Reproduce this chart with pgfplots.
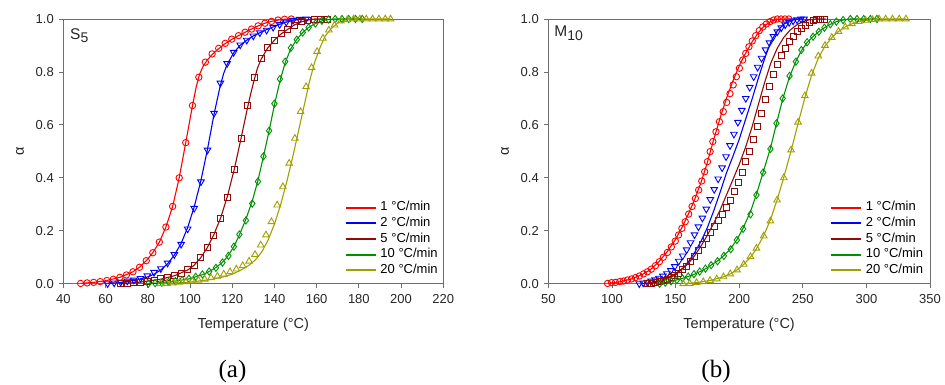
\documentclass[border=0pt]{standalone}
\usepackage{fontspec}
\setmainfont{Liberation Sans}
\newfontfamily\seriffont{Liberation Serif}
\usepackage{pgfplots}
\pgfplotsset{compat=1.18}
\definecolor{cR}{RGB}{255,0,0}
\definecolor{cB}{RGB}{0,0,255}
\definecolor{cM}{RGB}{145,10,10}
\definecolor{cG}{RGB}{0,145,0}
\definecolor{cY}{RGB}{160,160,0}
\definecolor{axg}{RGB}{110,110,110}
\pgfplotsset{
  panel/.style={
    scale only axis, height=264.7pt,
    ymin=0, ymax=1, ytick={0,0.2,0.4,0.6,0.8,1},
    yticklabel style={/pgf/number format/fixed, /pgf/number format/fixed zerofill, /pgf/number format/precision=1},
    /pgf/number format/assume math mode=true,
    tick align=outside, xtick pos=bottom, ytick pos=left,
    axis line style={axg, line width=0.8pt},
    major tick length=4pt,
    every tick/.style={axg, line width=0.8pt},
    tick label style={font=\fontsize{13}{15}\selectfont, black!85},
    xticklabel style={yshift=-3.2pt},
    yticklabel style={xshift=-2pt},
    label style={font=\fontsize{14.5}{16}\selectfont, black!85},
    xlabel={Temperature (°C)},
    ylabel={α},
    xlabel style={at={(axis description cs:0.5,-0.156)}, anchor=center},
    clip=false,
    legend cell align=left,
    legend image code/.code={\draw[line width=2pt] (0pt,0pt) -- (30pt,0pt);},
    legend style={draw=none, fill=none, inner sep=0pt, row sep=2.2pt,
      font=\fontsize{13}{15}\selectfont,
      nodes={inner xsep=3.5pt, inner ysep=1pt, text height=9pt, text depth=2.5pt}},
  },
  mk/.style={only marks, line width=0.9pt, forget plot},
  ln/.style={no marks, line width=1.1pt},
}
\begin{document}
\begin{tikzpicture}
\path[use as bounding box] (0pt,0pt) rectangle (945pt,385pt);
% ---------------- left panel (a) ----------------
\begin{axis}[panel, at={(63.3pt,101.3pt)}, anchor=south west, width=380pt,
  xmin=40, xmax=220, xtick={40,60,80,100,120,140,160,180,200,220},
  ylabel style={at={(axis description cs:-0.114,0.5)}, anchor=center},
  legend style={at={(axis description cs:0.995,0.024)}, anchor=south east}]
\addplot[mk, cR, mark=o, mark size=3.2pt] table {
48.2 0.001
51.3 0.003
54.4 0.005
57.5 0.008
60.6 0.012
63.7 0.017
66.8 0.024
69.9 0.033
73.0 0.045
76.1 0.062
79.3 0.087
82.4 0.117
85.5 0.157
88.6 0.214
91.8 0.292
94.9 0.400
98.0 0.533
101.2 0.673
104.2 0.780
107.3 0.837
110.5 0.868
113.6 0.889
116.7 0.908
119.8 0.924
123.0 0.937
126.1 0.950
129.2 0.962
132.3 0.974
135.5 0.984
138.6 0.991
141.7 0.996
144.8 0.999
148.0 1.000
};
\addplot[ln, cR] table {
48.2 0.001
54.4 0.005
60.6 0.012
66.8 0.024
73.0 0.045
76.1 0.062
79.3 0.087
82.4 0.117
85.5 0.157
88.6 0.214
91.8 0.292
94.9 0.400
98.0 0.533
101.2 0.673
103.0 0.745
104.5 0.790
106.0 0.818
108.0 0.843
110.5 0.866
113.6 0.888
116.7 0.907
119.8 0.923
123.0 0.937
126.1 0.950
129.2 0.962
132.3 0.974
135.5 0.984
138.6 0.991
141.7 0.996
144.8 0.999
148.0 1.000
};
\addlegendentry{1 °C/min}
\addplot[mk, cB, mark=triangle, mark size=3.8pt, mark options={rotate=180}] table {
61.0 0.000
64.1 0.003
67.2 0.006
70.3 0.010
73.4 0.014
76.6 0.020
79.8 0.030
83.0 0.043
86.2 0.057
89.4 0.078
92.6 0.110
95.8 0.149
98.9 0.207
102.0 0.285
105.2 0.385
108.3 0.505
111.4 0.644
114.4 0.758
117.6 0.832
120.7 0.874
123.8 0.902
126.9 0.920
130.0 0.936
133.1 0.948
136.3 0.958
139.4 0.969
142.5 0.979
145.6 0.988
148.8 0.995
151.9 0.999
155.0 1.000
};
\addplot[ln, cB] table {
61.0 0.000
67.2 0.005
73.4 0.012
79.8 0.025
83.0 0.036
86.2 0.052
89.4 0.075
92.6 0.108
95.8 0.152
98.9 0.212
102.0 0.290
105.2 0.390
108.3 0.508
111.4 0.640
114.4 0.750
116.0 0.795
117.6 0.828
120.7 0.872
123.8 0.901
126.9 0.920
130.0 0.936
133.1 0.948
136.3 0.960
139.4 0.970
142.5 0.980
145.6 0.988
148.8 0.995
151.9 0.999
155.0 1.000
};
\addlegendentry{2 °C/min}
\addplot[mk, cM, mark=square, mark size=3.0pt] table {
67.0 0.000
70.2 0.002
73.4 0.004
76.6 0.006
79.8 0.009
83.0 0.013
86.2 0.018
89.4 0.024
92.6 0.031
95.8 0.040
99.0 0.052
102.0 0.068
105.1 0.100
108.2 0.137
111.3 0.184
114.6 0.245
117.8 0.325
121.1 0.430
124.3 0.549
127.4 0.673
130.5 0.780
133.7 0.851
136.8 0.892
140.0 0.920
143.1 0.944
146.3 0.960
149.4 0.977
152.6 0.990
155.7 0.996
159.0 1.000
162.0 1.000
165.0 1.000
};
\addplot[ln, cM] table {
67.0 0.000
76.6 0.006
86.2 0.017
92.6 0.030
99.0 0.052
102.0 0.070
105.1 0.098
108.2 0.136
111.3 0.185
114.6 0.250
117.8 0.332
121.1 0.436
124.3 0.553
127.4 0.670
129.0 0.725
130.5 0.772
132.0 0.815
133.7 0.848
136.8 0.890
140.0 0.920
143.1 0.943
146.3 0.961
149.4 0.977
152.6 0.989
155.7 0.996
159.0 1.000
165.0 1.000
};
\addlegendentry{5 °C/min}
\addplot[mk, cG, mark=diamond, mark size=3.6pt] table {
80.3 0.000
83.5 0.002
86.7 0.004
89.9 0.007
93.1 0.010
96.3 0.014
99.5 0.019
102.7 0.026
105.9 0.035
109.1 0.046
112.3 0.060
115.4 0.080
118.2 0.105
120.8 0.140
123.4 0.186
126.5 0.239
129.5 0.303
132.2 0.386
134.8 0.481
137.5 0.578
140.0 0.680
142.6 0.773
145.1 0.839
147.8 0.891
150.6 0.922
153.4 0.949
156.2 0.968
159.4 0.983
162.5 0.993
165.6 0.998
168.8 1.000
172.0 1.000
175.2 1.000
178.4 1.000
181.6 1.000
};
\addplot[ln, cG] table {
80.3 0.000
89.9 0.006
99.5 0.018
105.9 0.034
109.1 0.046
112.3 0.061
115.4 0.081
118.2 0.107
120.8 0.140
123.4 0.184
126.5 0.244
129.5 0.312
132.2 0.390
134.8 0.480
137.5 0.578
140.0 0.675
142.6 0.765
145.1 0.835
147.8 0.888
150.6 0.923
153.4 0.949
156.2 0.968
159.4 0.983
162.5 0.993
165.6 0.998
168.8 1.000
181.6 1.000
};
\addlegendentry{10 °C/min}
\addplot[mk, cY, mark=triangle, mark size=3.8pt] table {
86.0 0.000
89.0 0.001
92.0 0.003
95.0 0.005
98.0 0.007
101.0 0.010
104.0 0.013
107.0 0.017
110.0 0.022
113.0 0.028
116.0 0.036
119.0 0.045
122.0 0.055
125.0 0.068
128.0 0.085
130.8 0.110
133.5 0.146
136.0 0.184
138.6 0.234
141.3 0.297
144.0 0.366
147.0 0.455
149.7 0.549
152.4 0.650
155.0 0.744
157.6 0.816
160.2 0.877
163.0 0.927
165.8 0.958
168.5 0.977
171.5 0.992
174.5 0.997
177.5 1.000
180.5 1.000
183.5 1.000
186.5 1.000
189.5 1.000
192.5 1.000
195.0 1.000
};
\addplot[ln, cY] table {
88.0 0.000
100.0 0.006
110.0 0.016
116.0 0.026
120.0 0.036
125.0 0.055
128.0 0.070
131.0 0.090
134.0 0.120
137.0 0.165
140.0 0.225
143.0 0.300
146.0 0.390
149.0 0.490
151.5 0.580
154.0 0.670
156.5 0.760
159.0 0.835
161.5 0.890
164.0 0.935
167.0 0.965
170.0 0.985
173.0 0.995
176.0 1.000
195.0 1.000
};
\addlegendentry{20 °C/min}
\node[anchor=north west, inner sep=0pt, font=\fontsize{15.5}{18}\selectfont, black!85]
  at (axis description cs:0.0176,0.965) {S\raisebox{-3.5pt}{\fontsize{14}{16}\selectfont 5}};
\end{axis}
% ---------------- right panel (b) ----------------
\begin{axis}[panel, at={(548.3pt,101.3pt)}, anchor=south west, width=381.7pt,
  xmin=50, xmax=350, xtick={50,100,150,200,250,300,350},
  ylabel style={at={(axis description cs:-0.1134,0.5)}, anchor=center},
  legend style={at={(axis description cs:0.9915,0.024)}, anchor=south east}]
\addplot[mk, cR, mark=o, mark size=3.2pt] table {
96.6 0.001
99.7 0.004
102.8 0.005
106.2 0.008
109.1 0.010
112.2 0.014
115.4 0.018
118.5 0.023
121.6 0.029
124.8 0.037
127.9 0.045
131.0 0.055
134.2 0.068
137.3 0.083
140.4 0.100
143.6 0.118
146.7 0.139
149.8 0.161
152.4 0.184
155.0 0.209
157.6 0.234
160.3 0.263
163.0 0.292
165.6 0.322
168.2 0.354
170.6 0.388
172.9 0.423
175.1 0.461
177.2 0.499
179.3 0.537
181.8 0.574
184.5 0.612
187.5 0.650
190.2 0.685
192.8 0.718
195.3 0.751
197.8 0.782
200.2 0.814
202.8 0.845
205.2 0.870
207.7 0.895
210.3 0.917
213.0 0.937
215.8 0.956
218.6 0.970
221.4 0.981
224.2 0.990
227.0 0.996
230.0 1.000
233.0 1.000
236.0 1.000
239.0 1.000
};
\addplot[ln, cR] table {
96.6 0.001
106.2 0.007
115.4 0.018
124.8 0.037
131.0 0.056
137.3 0.085
143.6 0.122
149.8 0.166
155.0 0.212
160.0 0.262
165.0 0.318
170.0 0.382
175.0 0.458
180.0 0.545
185.0 0.625
190.0 0.700
195.0 0.765
200.0 0.822
205.0 0.870
210.0 0.912
215.0 0.948
220.0 0.975
225.0 0.991
230.0 0.999
239.0 1.000
};
\addlegendentry{1 °C/min}
\addplot[mk, cB, mark=triangle, mark size=3.8pt, mark options={rotate=180}] table {
121.5 0.000
124.6 0.003
127.7 0.006
130.8 0.010
133.9 0.015
137.0 0.021
140.1 0.029
143.2 0.038
146.3 0.050
149.4 0.065
152.5 0.085
155.6 0.105
158.7 0.128
161.8 0.155
164.9 0.185
168.0 0.215
171.1 0.248
174.2 0.282
177.3 0.318
180.4 0.356
183.5 0.396
186.6 0.438
189.7 0.480
192.8 0.522
195.9 0.565
199.0 0.610
202.1 0.655
205.2 0.700
208.3 0.742
211.4 0.782
214.5 0.818
217.6 0.852
220.7 0.884
223.8 0.910
226.9 0.934
230.0 0.952
233.1 0.967
236.2 0.978
239.3 0.987
242.4 0.993
245.5 0.997
248.6 1.000
251.0 1.000
};
\addplot[ln, cB] table {
123 0.000
130 0.004
140 0.015
150 0.038
156 0.060
160 0.082
165 0.118
170 0.160
175 0.212
180 0.275
185 0.345
190 0.418
195 0.480
200 0.545
205 0.620
210 0.695
215 0.775
220 0.850
225 0.915
230 0.955
235 0.980
240 0.993
245 0.999
250 1.000
};
\addlegendentry{2 °C/min}
\addplot[mk, cM, mark=square, mark size=3.0pt] table {
127.8 0.000
130.9 0.002
134.0 0.004
137.1 0.007
140.2 0.011
143.3 0.016
146.4 0.022
149.5 0.030
152.6 0.040
155.7 0.052
158.8 0.066
161.9 0.083
165.0 0.103
168.1 0.125
171.2 0.148
174.3 0.170
177.4 0.192
180.5 0.215
183.6 0.238
186.7 0.262
189.8 0.288
192.9 0.316
196.0 0.348
199.1 0.383
202.2 0.420
205.3 0.460
208.4 0.500
211.5 0.545
214.6 0.595
217.7 0.645
220.8 0.695
223.9 0.745
227.0 0.790
230.1 0.830
233.2 0.862
236.3 0.890
239.4 0.915
242.5 0.935
245.6 0.952
248.7 0.966
251.8 0.977
254.9 0.986
258.0 0.993
261.1 0.997
264.2 1.000
267.3 1.000
};
\addplot[ln, cM] table {
128 0.000
140 0.010
150 0.033
160 0.076
165 0.106
170 0.142
175 0.183
180 0.228
185 0.278
190 0.335
195 0.392
200 0.450
205 0.515
210 0.590
215 0.675
220 0.760
225 0.835
230 0.890
235 0.930
240 0.958
245 0.977
250 0.990
255 0.997
260 1.000
268 1.000
};
\addlegendentry{5 °C/min}
\addplot[mk, cG, mark=diamond, mark size=3.6pt] table {
137.5 0.000
142.0 0.004
146.5 0.009
151.0 0.014
155.5 0.020
160.0 0.027
164.5 0.036
169.0 0.046
173.5 0.057
178.0 0.070
183.0 0.085
188.0 0.105
193.4 0.130
198.2 0.165
203.1 0.207
208.9 0.262
213.6 0.335
218.8 0.420
224.6 0.509
229.3 0.606
234.2 0.700
239.6 0.785
244.6 0.839
248.9 0.883
253.4 0.912
258.1 0.933
262.6 0.952
267.0 0.967
271.7 0.980
276.4 0.990
281.7 0.996
287.4 1.000
292.6 1.000
297.9 1.000
303.1 1.000
308.3 1.000
};
\addplot[ln, cG] table {
137.5 0.000
146.5 0.009
155.5 0.020
164.5 0.035
173.5 0.056
183.0 0.086
188.0 0.106
193.4 0.133
198.2 0.166
203.1 0.210
208.9 0.272
213.6 0.338
218.8 0.420
224.6 0.512
229.3 0.604
234.2 0.697
239.6 0.782
244.6 0.840
248.9 0.880
253.4 0.911
258.1 0.934
262.6 0.952
267.0 0.967
271.7 0.980
276.4 0.990
281.7 0.996
287.4 1.000
308.3 1.000
};
\addlegendentry{10 °C/min}
\addplot[mk, cY, mark=triangle, mark size=3.8pt] table {
156.0 0.000
161.2 0.001
166.5 0.004
171.8 0.007
177.1 0.012
182.4 0.018
187.7 0.026
193.0 0.037
198.3 0.052
203.6 0.073
208.9 0.102
213.6 0.134
219.3 0.180
224.6 0.237
229.8 0.316
235.1 0.400
240.8 0.505
246.3 0.610
251.6 0.710
256.9 0.795
262.2 0.860
267.5 0.900
272.8 0.930
278.1 0.953
283.4 0.970
288.7 0.982
294.0 0.990
299.3 0.995
304.6 0.998
309.9 1.000
315.2 1.000
320.5 1.000
325.8 1.000
331.1 1.000
};
\addplot[ln, cY] table {
156.0 0.000
166.5 0.004
177.1 0.012
187.7 0.026
193.0 0.037
198.3 0.052
203.6 0.073
208.9 0.100
213.6 0.132
219.3 0.182
224.6 0.242
229.8 0.316
235.1 0.402
240.8 0.502
246.3 0.605
251.6 0.702
256.9 0.787
262.2 0.852
267.5 0.898
272.8 0.930
278.1 0.953
283.4 0.970
288.7 0.982
294.0 0.990
299.3 0.995
304.6 0.998
309.9 1.000
331.1 1.000
};
\addlegendentry{20 °C/min}
\node[anchor=north west, inner sep=0pt, font=\fontsize{15.5}{18}\selectfont, black!85]
  at (axis description cs:0.0157,0.9736) {M\raisebox{-3.7pt}{\fontsize{14}{16}\selectfont 10}};
\end{axis}
\node[font=\seriffont\fontsize{25}{28}\selectfont] at (232.5pt,14pt) {(a)};
\node[font=\seriffont\fontsize{25}{28}\selectfont] at (716pt,14pt) {(b)};
\end{tikzpicture}
\end{document}
